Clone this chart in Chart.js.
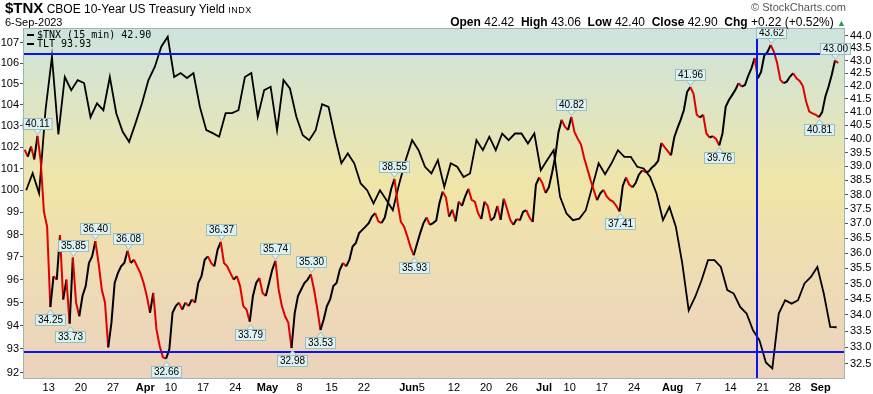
<!DOCTYPE html>
<html>
<head>
<meta charset="utf-8">
<script src="https://cdn.jsdelivr.net/npm/chart.js@4.4.0/dist/chart.umd.min.js"></script>
<style>
body { margin: 0; background: #fff; font-family: "Liberation Sans", Arial, sans-serif; }
#wrap { position: relative; width: 873px; height: 394px; overflow: hidden; }
#myChart { position: absolute; left: 0; top: 0; }
.t { position: absolute; white-space: nowrap; color: #000; }
</style>
</head>
<body>
<div id="wrap">
  <canvas id="myChart" width="873" height="394"></canvas>
  <div class="t" style="left:5px;top:-1px;font-size:12px;"><b style="font-size:15px;">$TNX</b> CBOE 10-Year US Treasury Yield <span style="font-size:9px;letter-spacing:0.5px;">INDX</span></div>
  <div class="t" style="left:5px;top:16px;font-size:11px;">6-Sep-2023</div>
  <div class="t" style="right:27px;top:1px;font-size:11px;color:#555;">&copy; StockCharts.com</div>
  <div class="t" style="right:27px;top:15px;font-size:12px;"><b>Open</b> 42.42&nbsp; <b>High</b> 43.06&nbsp; <b>Low</b> 42.40&nbsp; <b>Close</b> 42.90&nbsp; <b>Chg</b> +0.22 (+0.52%) <span style="color:#2e9a44;font-size:9px;">&#9650;</span></div>
</div>
<script>
// séances du 7 mars au 6 septembre 2023 : index de jour de bourse (0 = 7 mars)
const tickDays = [4, 9, 14, 19, 23, 28, 33, 38, 43, 48, 53, 60, 62, 67, 72, 76, 81, 85, 90, 95, 101, 105, 110, 115, 120, 124];
const tickLabels = ['13', '20', '27', 'Apr', '10', '17', '24', 'May', '8', '15', '22', 'Jun', '5', '12', '20', '26', 'Jul', '10', '17', '24', 'Aug', '7', '14', '21', '28', 'Sep'];

const leftTicks = [92, 93, 94, 95, 96, 97, 98, 99, 100, 101, 102, 103, 104, 105, 106, 107];
const rightTicks = [32.5, 33, 33.5, 34, 34.5, 35, 35.5, 36, 36.5, 37, 37.5, 38, 38.5, 39, 39.5, 40, 40.5, 41, 41.5, 42, 42.5, 43, 43.5, 44];

// $TNX, deux valeurs par séance (matin / après-midi)
const tnxValues = [
  39.60, 39.35, 39.72, 39.25, 40.11, 39.20, 37.40, 36.89, 34.25, 35.24,
  35.13, 36.60, 34.49, 35.13, 33.73, 35.85, 34.39, 33.96, 34.60, 34.92,
  35.67, 35.89, 36.40, 35.67, 34.81, 34.39, 33.00, 33.76, 35.02, 35.34,
  35.56, 35.67, 36.08, 35.67, 35.78, 35.56, 35.34, 35.02, 34.60, 34.07,
  34.70, 33.55, 33.04, 32.70, 32.66, 32.94, 34.07, 34.28, 34.39, 34.17,
  34.39, 34.28, 34.49, 34.39, 35.02, 35.24, 35.78, 35.89, 35.67, 35.56,
  36.11, 36.37, 35.67, 35.56, 35.34, 35.13, 35.24, 34.92, 34.28, 34.17,
  33.79, 34.60, 35.02, 35.18, 34.70, 34.60, 35.02, 35.45, 35.74, 34.81,
  34.28, 33.96, 33.76, 32.98, 34.07, 34.60, 34.81, 35.02, 35.13, 35.30,
  34.81, 34.20, 33.53, 33.86, 34.28, 34.49, 34.92, 35.02, 35.45, 35.67,
  35.56, 35.78, 36.22, 36.34, 36.67, 36.78, 36.89, 37.01, 37.23, 37.35,
  37.07, 37.01, 37.20, 37.70, 38.20, 38.55, 37.70, 37.05, 36.89, 36.56,
  36.20, 35.93, 36.30, 36.67, 37.00, 37.20, 36.95, 37.01, 37.10, 37.70,
  38.10, 37.90, 37.23, 37.47, 37.07, 37.75, 37.60, 37.93, 38.20, 37.81,
  37.75, 37.35, 37.15, 37.75, 37.60, 37.10, 37.20, 37.60, 37.12, 37.85,
  37.50, 37.12, 36.95, 37.15, 37.10, 37.40, 37.45, 37.20, 37.05, 38.35,
  38.60, 38.40, 38.05, 38.25, 38.76, 39.35, 40.25, 40.71, 40.45, 40.33,
  40.82, 40.25, 40.00, 39.80, 39.30, 38.90, 38.50, 38.15, 37.80, 38.04,
  38.16, 37.93, 37.81, 37.75, 37.60, 37.41, 38.30, 38.60, 38.35, 38.25,
  38.40, 38.70, 38.85, 38.80, 38.81, 38.95, 39.05, 39.20, 39.85, 39.70,
  39.55, 39.40, 40.05, 40.40, 40.71, 41.08, 41.77, 41.96, 41.70, 40.90,
  40.80, 40.90, 40.20, 40.05, 40.10, 40.00, 39.76, 40.20, 41.20, 41.46,
  41.65, 41.85, 42.11, 41.98, 42.04, 42.40, 42.69, 43.10, 42.30, 42.55,
  43.20, 43.34, 43.62, 43.35, 42.90, 42.24, 42.11, 42.17, 42.37, 42.50,
  42.30, 42.20, 42.00, 41.40, 41.02, 40.95, 40.90, 40.81, 41.00, 41.60,
  41.98, 42.45, 43.00, 42.90
];

// TLT, une valeur par séance
const tltValues = [
  100.01, 100.79, 99.87, 103.74, 106.31, 102.60, 105.33, 104.70, 105.18, 105.04,
  103.41, 104.07, 103.74, 105.33, 103.60, 102.72, 102.25, 103.13, 104.07, 105.18,
  105.83, 106.80, 107.29, 105.33, 105.52, 105.28, 105.52, 103.90, 102.80, 102.66,
  102.49, 103.60, 103.60, 103.74, 105.33, 105.52, 103.43, 104.70, 104.86, 102.80,
  105.18, 104.78, 103.43, 102.56, 102.33, 102.80, 104.03, 103.90, 102.49, 101.25,
  101.71, 101.25, 100.32, 100.01, 99.41, 100.01, 99.56, 99.10, 100.32, 101.40,
  102.33, 101.86, 101.09, 100.78, 101.40, 100.16, 101.25, 101.09, 100.62, 100.78,
  102.33, 101.86, 102.49, 101.86, 102.64, 102.33, 102.64, 102.64, 102.17, 102.64,
  100.93, 101.40, 101.86, 99.71, 98.95, 98.65, 98.72, 99.10, 100.16, 101.25,
  100.75, 101.25, 101.86, 101.55, 101.55, 101.09, 101.01, 100.62, 99.86, 98.65,
  99.25, 98.35, 96.72, 94.66, 95.24, 95.97, 96.86, 96.86, 96.56, 95.54,
  95.39, 94.81, 94.52, 93.80, 93.37, 92.43, 92.18, 94.52, 95.10, 94.95,
  95.10, 95.83, 96.12, 96.56, 95.39, 93.94, 93.93
];

// étiquettes des sommets / creux du $TNX (index de demi-séance)
const calloutIdx = [4, 8, 14, 15, 22, 32, 44, 61, 70, 78, 83, 89, 92, 115, 121, 170, 185, 207, 216, 232, 247, 252];
const calloutValues = [40.11, 34.25, 33.73, 35.85, 36.40, 36.08, 32.66, 36.37, 33.79, 35.74, 32.98, 35.30, 33.53, 38.55, 35.93, 40.82, 37.41, 41.96, 39.76, 43.62, 40.81, 43.00];
const calloutAbove = [true, false, false, true, true, true, false, true, false, true, false, true, false, true, false, true, false, true, false, true, false, true];

// lignes tracées à la main (bleu)
const hLineValues = [43.24, 32.85];
const vLineDays = [114.1];

const legendLines = ['$TNX (15 min) 42.90', 'TLT 93.93'];

const tnxPoints = tnxValues.map((v, i) => ({ x: i / 2 + 0.25, y: v }));
const tltPoints = tltValues.map((v, i) => ({ x: i + 0.5, y: v }));

const decor = {
    id: 'decor',
    beforeDraw(chart) {
        const { ctx, chartArea: a } = chart;
        ctx.save();
        ctx.fillStyle = '#fff';
        ctx.fillRect(0, 0, chart.width, chart.height);
        let g = ctx.createLinearGradient(0, a.top, 0, a.bottom);
        g.addColorStop(0, 'rgb(204,228,222)');
        g.addColorStop(0.45, 'rgb(240,229,168)');
        g.addColorStop(0.75, 'rgb(238,218,182)');
        g.addColorStop(1, 'rgb(235,210,189)');
        ctx.fillStyle = g;
        ctx.fillRect(a.left, a.top, a.right - a.left, a.bottom - a.top);
        ctx.restore();
    },
    afterDatasetsDraw(chart) {
        const { ctx, chartArea: a } = chart;
        const xs = chart.scales.x, ys = chart.scales.y1;
        ctx.save();

        // lignes bleues
        ctx.strokeStyle = '#0a14f0';
        ctx.lineWidth = 2;
        hLineValues.forEach(v => {
            let py = Math.round(ys.getPixelForValue(v));
            ctx.beginPath();
            ctx.moveTo(a.left, py);
            ctx.lineTo(a.right, py);
            ctx.stroke();
        });
        vLineDays.forEach(d => {
            let px = Math.round(xs.getPixelForValue(d));
            ctx.beginPath();
            ctx.moveTo(px, a.top);
            ctx.lineTo(px, a.bottom);
            ctx.stroke();
        });

        // étiquettes
        ctx.font = '10px "Liberation Sans", Arial, sans-serif';
        ctx.textAlign = 'center';
        ctx.textBaseline = 'middle';
        ctx.lineWidth = 1;
        calloutIdx.forEach((h, i) => {
            let px = Math.round(xs.getPixelForValue(h / 2 + 0.25)) + 0.5;
            let py = Math.round(ys.getPixelForValue(calloutValues[i])) + 0.5;
            let txt = calloutValues[i].toFixed(2);
            let w = Math.ceil(ctx.measureText(txt).width) + 4;
            let hgt = 11;
            let dir = calloutAbove[i] ? -1 : 1;
            let tip = py + dir * 2;
            let base = py + dir * 7;
            let boxTop = calloutAbove[i] ? base - hgt : base;
            ctx.fillStyle = '#dcf1f1';
            ctx.strokeStyle = '#9dbcbe';
            ctx.beginPath();
            ctx.moveTo(px - 4, base);
            ctx.lineTo(px, tip);
            ctx.lineTo(px + 4, base);
            ctx.closePath();
            ctx.fill();
            ctx.stroke();
            ctx.fillRect(px - w / 2, boxTop, w, hgt);
            ctx.strokeRect(px - w / 2, boxTop, w, hgt);
            ctx.fillStyle = '#000';
            ctx.fillText(txt, px, boxTop + hgt / 2 + 0.5);
        });

        // légende
        ctx.textAlign = 'left';
        ctx.font = '10px "DejaVu Sans Mono", monospace';
        legendLines.forEach((s, i) => {
            let y = a.top + 7 + i * 9;
            ctx.fillStyle = '#000';
            ctx.fillRect(a.left + 4, y - 1, 7, 2);
            ctx.fillText(s, a.left + 14, y);
        });

        // cadre
        ctx.strokeStyle = '#9cb4b7';
        ctx.lineWidth = 1;
        ctx.strokeRect(a.left + 0.5, a.top + 0.5, a.right - a.left - 1, a.bottom - a.top - 1);
        ctx.restore();
    }
};

let ctx = document.getElementById('myChart').getContext('2d');
let myChart = new Chart(ctx, {
    type: 'line',
    data: {
        datasets: [{
            label: '$TNX',
            data: tnxPoints,
            yAxisID: 'y1',
            borderWidth: 2,
            borderColor: '#e00000',
            segment: {
                borderColor: c => c.p1.parsed.y > c.p0.parsed.y ? '#000' : '#e00000'
            },
            pointRadius: 0,
            tension: 0
        }, {
            label: 'TLT',
            data: tltPoints,
            yAxisID: 'y',
            borderWidth: 1.8,
            borderColor: '#000',
            pointRadius: 0,
            tension: 0
        }]
    },
    options: {
        responsive: false,
        animation: false,
        events: [],
        layout: { padding: { top: 28, left: 0, right: 0, bottom: 0 } },
        plugins: {
            legend: { display: false },
            tooltip: { enabled: false }
        },
        scales: {
            x: {
                type: 'linear',
                min: 0,
                max: 127.8,
                afterBuildTicks: s => { s.ticks = tickDays.map(v => ({ value: v })); },
                afterFit: s => { s.height = 15; },
                grid: { display: false, drawTicks: false },
                border: { display: false },
                ticks: {
                    autoSkip: false,
                    maxRotation: 0,
                    padding: 2,
                    color: '#000',
                    callback: v => tickLabels[tickDays.indexOf(v)],
                    font: c => ({
                        family: 'Liberation Sans',
                        size: 11,
                        weight: (c.tick && isNaN(Number(c.tick.label))) ? 'bold' : 'normal'
                    })
                }
            },
            y: {
                type: 'logarithmic',
                position: 'left',
                min: 91.73,
                max: 107.72,
                afterBuildTicks: s => { s.ticks = leftTicks.map(v => ({ value: v })); },
                afterFit: s => { s.width = 23; },
                grid: { drawOnChartArea: false, tickLength: 3, color: '#555' },
                border: { display: false },
                ticks: {
                    autoSkip: false,
                    padding: 1,
                    color: '#000',
                    font: { family: 'Liberation Sans', size: 11 },
                    callback: v => String(v)
                }
            },
            y1: {
                type: 'logarithmic',
                position: 'right',
                min: 32.05,
                max: 44.31,
                afterBuildTicks: s => { s.ticks = rightTicks.map(v => ({ value: v })); },
                afterFit: s => { s.width = 28; },
                grid: { drawOnChartArea: false, tickLength: 3, color: '#555' },
                border: { display: false },
                ticks: {
                    autoSkip: false,
                    padding: 2,
                    color: '#000',
                    font: { family: 'Liberation Sans', size: 11 },
                    callback: v => Number(v).toFixed(1)
                }
            }
        }
    },
    plugins: [decor]
});
</script>
</body>
</html>
